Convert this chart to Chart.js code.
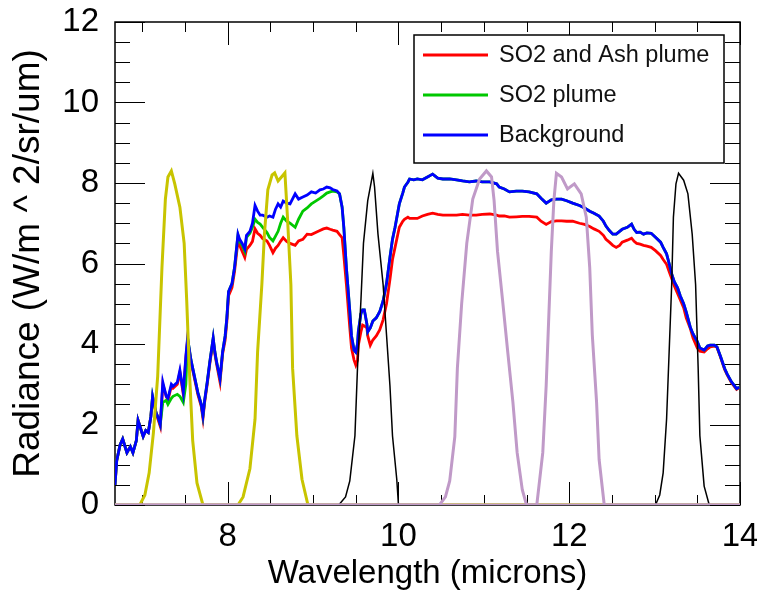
<!DOCTYPE html>
<html>
<head>
<meta charset="utf-8">
<script src="https://cdn.jsdelivr.net/npm/chart.js@4.4.1/dist/chart.umd.min.js"></script>
<style>
  html, body { margin: 0; padding: 0; background: #fff; }
</style>
</head>
<body>
<canvas id="radianceChart" width="757" height="592"></canvas>
<script>
// Wavelength grid for the three spectra (microns)
const waveGrid = [
  6.68, 6.70, 6.74, 6.77, 6.82, 6.86, 6.89, 6.93, 6.95, 6.98,
  7.01, 7.04, 7.07, 7.10, 7.12, 7.16, 7.18, 7.21, 7.24, 7.28,
  7.30, 7.34, 7.36, 7.41, 7.44, 7.48, 7.51, 7.53, 7.57, 7.59,
  7.63, 7.65, 7.69, 7.71, 7.73, 7.76, 7.79, 7.83, 7.85, 7.87,
  7.91, 7.94, 7.97, 7.99, 8.01, 8.05, 8.08, 8.12, 8.14, 8.17,
  8.20, 8.22, 8.26, 8.29, 8.32, 8.35, 8.38, 8.41, 8.46, 8.49,
  8.53, 8.56, 8.59, 8.62, 8.65, 8.69, 8.73, 8.79, 8.83, 8.88,
  8.93, 8.98, 9.03, 9.08, 9.12, 9.16, 9.20, 9.23, 9.28, 9.31,
  9.34, 9.36, 9.39, 9.43, 9.45, 9.48, 9.50, 9.52, 9.53, 9.56,
  9.58, 9.60, 9.63, 9.64, 9.67, 9.70, 9.74, 9.78, 9.82, 9.86,
  9.90, 9.93, 9.96, 9.99, 10.01, 10.05, 10.07, 10.11, 10.13, 10.18,
  10.22, 10.28, 10.34, 10.40, 10.46, 10.52, 10.60, 10.68, 10.75, 10.83,
  10.91, 10.98, 11.07, 11.15, 11.18, 11.24, 11.30, 11.38, 11.45, 11.53,
  11.62, 11.67, 11.73, 11.79, 11.85, 11.91, 11.97, 12.04, 12.12, 12.18,
  12.24, 12.29, 12.35, 12.40, 12.43, 12.47, 12.51, 12.55, 12.59, 12.62,
  12.68, 12.73, 12.76, 12.79, 12.83, 12.87, 12.91, 12.96, 13.01, 13.07,
  13.10, 13.14, 13.17, 13.20, 13.23, 13.27, 13.30, 13.34, 13.37, 13.42,
  13.45, 13.50, 13.53, 13.58, 13.62, 13.65, 13.70, 13.73, 13.77, 13.82,
  13.85, 13.90, 13.96, 13.99
];

// Background radiance
const backgroundRad = [
  0.5, 1.1, 1.5, 1.64, 1.3, 1.45, 1.3, 1.6, 2.1, 1.9,
  1.7, 1.85, 1.8, 2.2, 2.7, 2.3, 2.2, 2.0, 3.05, 2.7,
  2.65, 3.0, 2.95, 3.05, 3.35, 2.8, 3.7, 4.15, 3.6, 3.4,
  3.0, 2.8, 2.5, 2.22, 2.6, 3.05, 3.55, 4.15, 3.8, 3.55,
  3.14, 3.8, 4.2, 4.65, 5.3, 5.5, 5.9, 6.73, 6.6, 6.5,
  6.36, 6.7, 6.8, 7.0, 7.44, 7.3, 7.2, 7.2, 7.15, 7.18,
  7.15, 7.35, 7.48, 7.4, 7.55, 7.5, 7.48, 7.73, 7.6, 7.65,
  7.7, 7.78, 7.75, 7.83, 7.85, 7.9, 7.88, 7.84, 7.8, 7.73,
  7.4, 6.9, 5.9, 4.82, 4.2, 3.85, 3.8, 4.0, 4.31, 4.75,
  4.85, 4.85, 4.5, 4.3, 4.4, 4.57, 4.65, 4.8, 5.07, 5.5,
  6.15, 6.6, 6.9, 7.25, 7.48, 7.75, 7.9, 8.02, 8.1, 8.08,
  8.1, 8.08, 8.15, 8.22, 8.12, 8.1, 8.1, 8.08, 8.05, 8.03,
  8.05, 8.03, 8.03, 7.98, 7.9, 7.85, 7.78, 7.8, 7.8, 7.78,
  7.73, 7.62, 7.5, 7.58, 7.6, 7.6, 7.56, 7.5, 7.44, 7.38,
  7.3, 7.25, 7.18, 7.05, 6.93, 6.82, 6.73, 6.73, 6.8, 6.85,
  6.9, 6.98, 6.85, 6.77, 6.78, 6.73, 6.76, 6.75, 6.65, 6.53,
  6.4, 6.24, 6.0, 5.74, 5.55, 5.39, 5.2, 5.0, 4.8, 4.4,
  4.25, 4.06, 3.9, 3.85, 3.95, 3.97, 3.97, 3.93, 3.7, 3.39,
  3.25, 3.06, 2.89, 2.93
];

// SO2 plume radiance
const so2Rad = [
  0.5, 1.1, 1.5, 1.64, 1.3, 1.45, 1.3, 1.6, 2.1, 1.9,
  1.7, 1.85, 1.8, 2.2, 2.7, 2.3, 2.2, 2.0, 2.55, 2.6,
  2.5, 2.65, 2.7, 2.75, 2.7, 2.55, 3.0, 4.15, 3.6, 3.4,
  3.0, 2.8, 2.5, 2.22, 2.6, 3.05, 3.55, 4.15, 3.8, 3.55,
  3.14, 3.8, 4.2, 4.65, 5.3, 5.5, 5.9, 6.7, 6.55, 6.45,
  6.3, 6.65, 6.75, 6.9, 7.1, 7.02, 6.98, 6.9, 6.77, 6.65,
  6.56, 6.68, 6.8, 7.0, 7.15, 7.05, 7.0, 6.9, 7.1, 7.3,
  7.38, 7.48, 7.55, 7.62, 7.68, 7.75, 7.78, 7.8, 7.78, 7.73,
  7.4, 6.9, 5.9, 4.82, 4.2, 3.85, 3.8, 4.0, 4.31, 4.75,
  4.85, 4.85, 4.5, 4.3, 4.4, 4.57, 4.65, 4.8, 5.07, 5.5,
  6.15, 6.6, 6.9, 7.25, 7.48, 7.75, 7.9, 8.02, 8.1, 8.08,
  8.1, 8.08, 8.15, 8.22, 8.12, 8.1, 8.1, 8.08, 8.05, 8.03,
  8.05, 8.03, 8.03, 7.98, 7.9, 7.85, 7.78, 7.8, 7.8, 7.78,
  7.73, 7.62, 7.5, 7.58, 7.6, 7.6, 7.56, 7.5, 7.44, 7.38,
  7.3, 7.25, 7.18, 7.05, 6.93, 6.82, 6.73, 6.73, 6.8, 6.85,
  6.9, 6.98, 6.85, 6.77, 6.78, 6.73, 6.76, 6.75, 6.65, 6.53,
  6.4, 6.24, 6.0, 5.74, 5.55, 5.39, 5.2, 5.0, 4.8, 4.4,
  4.25, 4.06, 3.9, 3.85, 3.95, 3.97, 3.97, 3.93, 3.7, 3.39,
  3.25, 3.06, 2.89, 2.93
];

// SO2 and Ash plume radiance
const ashRad = [
  0.5, 1.1, 1.5, 1.64, 1.3, 1.45, 1.3, 1.6, 2.1, 1.9,
  1.7, 1.85, 1.8, 2.2, 2.65, 2.3, 2.15, 1.95, 3.0, 2.7,
  2.6, 2.95, 2.9, 3.0, 3.3, 2.75, 3.65, 4.1, 3.55, 3.35,
  2.95, 2.75, 2.45, 2.15, 2.55, 3.0, 3.5, 4.1, 3.75, 3.5,
  3.05, 3.75, 4.1, 4.55, 5.2, 5.4, 5.8, 6.55, 6.45, 6.3,
  6.15, 6.35, 6.45, 6.55, 6.86, 6.75, 6.7, 6.62, 6.56, 6.45,
  6.27, 6.38, 6.45, 6.55, 6.64, 6.55, 6.5, 6.45, 6.56, 6.6,
  6.73, 6.72, 6.77, 6.82, 6.86, 6.88, 6.85, 6.83, 6.8, 6.72,
  6.64, 6.2, 5.48, 4.4, 3.9, 3.6, 3.48, 3.6, 3.97, 4.3,
  4.47, 4.45, 4.4, 4.2, 3.97, 4.1, 4.2, 4.35, 4.6, 5.0,
  5.6, 6.1, 6.4, 6.7, 6.9, 7.05, 7.1, 7.15, 7.12, 7.12,
  7.12, 7.18, 7.22, 7.25, 7.22, 7.2, 7.2, 7.2, 7.22, 7.2,
  7.2, 7.22, 7.23, 7.2, 7.18, 7.18, 7.15, 7.16, 7.17, 7.17,
  7.15, 7.05, 6.97, 7.04, 7.06, 7.06, 7.05, 7.05, 7.0, 6.97,
  6.92, 6.86, 6.8, 6.7, 6.6, 6.53, 6.45, 6.4, 6.45, 6.53,
  6.58, 6.63, 6.55, 6.5, 6.48, 6.45, 6.43, 6.4, 6.32, 6.2,
  6.1, 5.98, 5.8, 5.63, 5.45, 5.25, 5.1, 4.9, 4.65, 4.37,
  4.15, 3.9, 3.82, 3.8, 3.88, 3.93, 3.95, 3.92, 3.68, 3.37,
  3.23, 3.04, 2.87, 2.91
];

// Instrument filter response curves (scaled), each with its own wavelengths
const yellowAWave = [6.68, 6.97, 7.03, 7.08, 7.13, 7.18, 7.23, 7.27, 7.30, 7.34, 7.38, 7.44, 7.49, 7.52, 7.55, 7.59, 7.64, 7.71, 14.0];
const yellowARes  = [0, 0, 0.25, 0.8, 1.8, 3.2, 5.9, 7.6, 8.15, 8.3, 7.98, 7.4, 6.5, 5.07, 3.4, 1.6, 0.55, 0, 0];
const yellowBWave = [6.68, 8.12, 8.18, 8.26, 8.32, 8.35, 8.40, 8.43, 8.47, 8.52, 8.55, 8.59, 8.63, 8.67, 8.70, 8.74, 8.76, 8.81, 8.87, 8.94, 14.0];
const yellowBRes  = [0, 0, 0.2, 0.9, 2.13, 3.8, 5.48, 6.73, 7.83, 8.2, 8.25, 8.05, 8.15, 8.25, 7.15, 5.48, 3.4, 1.72, 0.64, 0, 0];
const blackAWave  = [6.68, 9.30, 9.38, 9.43, 9.49, 9.52, 9.56, 9.59, 9.64, 9.70, 9.72, 9.76, 9.82, 9.86, 9.90, 9.93, 9.98, 10.0, 14.0];
const blackARes   = [0, 0, 0.2, 0.6, 1.72, 3.4, 5.07, 6.5, 7.56, 8.24, 7.9, 6.73, 5.48, 4.23, 2.97, 1.72, 0.64, 0, 0];
const purpleAWave = [6.68, 10.48, 10.55, 10.60, 10.66, 10.69, 10.74, 10.80, 10.87, 10.95, 11.03, 11.09, 11.12, 11.16, 11.22, 11.28, 11.34, 11.39, 11.45, 11.50, 14.0];
const purpleARes  = [0, 0, 0.2, 0.6, 1.7, 3.4, 5.0, 6.5, 7.6, 8.1, 8.3, 8.15, 7.56, 6.3, 5.07, 3.8, 2.56, 1.3, 0.38, 0, 0];
const purpleBWave = [6.68, 11.62, 11.69, 11.73, 11.76, 11.79, 11.82, 11.85, 11.91, 11.98, 12.06, 12.14, 12.20, 12.24, 12.27, 12.32, 12.35, 12.41, 14.0];
const purpleBRes  = [0, 0, 1.3, 2.97, 4.65, 6.3, 7.56, 8.24, 8.15, 7.85, 7.98, 7.73, 7.15, 5.9, 4.23, 2.56, 1.13, 0, 0];
const blackBWave  = [6.68, 13.01, 13.06, 13.10, 13.14, 13.17, 13.20, 13.22, 13.25, 13.28, 13.34, 13.39, 13.44, 13.48, 13.51, 13.53, 13.58, 13.64, 14.0];
const blackBRes   = [0, 0, 0.25, 0.8, 2.13, 3.8, 5.48, 7.15, 7.98, 8.24, 8.07, 7.73, 6.73, 5.48, 3.4, 1.72, 0.47, 0, 0];

const legendNames = ['SO2 and Ash plume', 'SO2 plume', 'Background'];
const xTickValues = [8, 10, 12, 14];
const yTickValues = [0, 2, 4, 6, 8, 10, 12];
const minorStep = 0.5;

const FONT = "'Liberation Sans', Arial, Helvetica, sans-serif";

function pairs(xs, ys) {
    return xs.map((x, i) => ({ x: x, y: ys[i] }));
}

/**
 * Ramka va ichki tomonga qaragan tiklar
 */
const frameTicks = {
    id: 'frameTicks',
    beforeDatasetsDraw(chart) {
        const { ctx, chartArea: a, scales: { x, y } } = chart;
        ctx.save();
        ctx.strokeStyle = '#000';
        ctx.lineWidth = 1;
        ctx.beginPath();
        for (let i = Math.ceil(x.min / minorStep); i * minorStep <= x.max + 1e-9; i++) {
            const px = Math.round(x.getPixelForValue(i * minorStep)) + 0.5;
            const len = (i % 4 === 0) ? 23 : 10;
            ctx.moveTo(px, a.bottom); ctx.lineTo(px, a.bottom - len);
            ctx.moveTo(px, a.top); ctx.lineTo(px, a.top + len);
        }
        for (let i = Math.ceil(y.min / minorStep); i * minorStep <= y.max + 1e-9; i++) {
            const py = Math.round(y.getPixelForValue(i * minorStep)) + 0.5;
            const len = (i % 4 === 0) ? 30 : 15;
            ctx.moveTo(a.left, py); ctx.lineTo(a.left + len, py);
            ctx.moveTo(a.right, py); ctx.lineTo(a.right - len, py);
        }
        ctx.stroke();
        ctx.lineWidth = 1.5;
        ctx.strokeRect(a.left, a.top, a.right - a.left, a.bottom - a.top);
        ctx.restore();
    }
};

/**
 * Grafik ichidagi legenda
 */
const boxLegend = {
    id: 'boxLegend',
    afterDraw(chart) {
        const ctx = chart.ctx;
        const box = { left: 414, top: 35, right: 724, bottom: 163 };
        ctx.save();
        ctx.fillStyle = '#fff';
        ctx.fillRect(box.left, box.top, box.right - box.left, box.bottom - box.top);
        ctx.strokeStyle = '#000';
        ctx.lineWidth = 1.5;
        ctx.strokeRect(box.left, box.top, box.right - box.left, box.bottom - box.top);
        ctx.font = '23.5px ' + FONT;
        ctx.textBaseline = 'middle';
        ctx.textAlign = 'left';
        legendNames.forEach((name, i) => {
            const ds = chart.data.datasets.find(d => d.label === name);
            const rowY = 55 + i * 40;
            ctx.strokeStyle = ds.borderColor;
            ctx.lineWidth = 3;
            ctx.beginPath();
            ctx.moveTo(423, rowY);
            ctx.lineTo(488, rowY);
            ctx.stroke();
            ctx.fillStyle = '#111';
            ctx.fillText(name, 499, rowY + 1);
        });
        ctx.restore();
    }
};

const ctx = document.getElementById('radianceChart');

new Chart(ctx, {
    type: 'line',
    data: {
        datasets: [
            { label: 'Filter 11.0', data: pairs(purpleAWave, purpleARes), borderColor: '#c09ac8', borderWidth: 3 },
            { label: 'Filter 12.0', data: pairs(purpleBWave, purpleBRes), borderColor: '#c09ac8', borderWidth: 3 },
            { label: 'Filter 9.7', data: pairs(blackAWave, blackARes), borderColor: '#000000', borderWidth: 1.5 },
            { label: 'Filter 13.3', data: pairs(blackBWave, blackBRes), borderColor: '#000000', borderWidth: 1.5 },
            { label: 'Filter 7.3', data: pairs(yellowAWave, yellowARes), borderColor: '#c8c400', borderWidth: 3 },
            { label: 'Filter 8.6', data: pairs(yellowBWave, yellowBRes), borderColor: '#c8c400', borderWidth: 3 },
            { label: 'Background', data: pairs(waveGrid, backgroundRad), borderColor: '#0000ff', borderWidth: 2.8 },
            { label: 'SO2 plume', data: pairs(waveGrid, so2Rad), borderColor: '#00c800', borderWidth: 2.8 },
            { label: 'SO2 and Ash plume', data: pairs(waveGrid, ashRad), borderColor: '#ff0000', borderWidth: 2.8 }
        ]
    },
    options: {
        responsive: false,
        animation: false,
        layout: { padding: { top: 22, right: 17, left: 0, bottom: 0 } },
        elements: {
            point: { radius: 0 },
            line: { tension: 0, fill: false }
        },
        plugins: {
            legend: { display: false },
            tooltip: { enabled: false }
        },
        scales: {
            x: {
                type: 'linear',
                min: 6.68,
                max: 14,
                grid: { display: false, drawTicks: false },
                border: { display: false },
                afterBuildTicks: s => { s.ticks = xTickValues.map(v => ({ value: v })); },
                afterFit: s => { s.height = 87; s.paddingLeft = 0; s.paddingRight = 0; },
                ticks: {
                    font: { size: 33, family: FONT },
                    color: '#000',
                    padding: 12,
                    maxRotation: 0,
                    autoSkip: false
                },
                title: {
                    display: true,
                    text: 'Wavelength (microns)',
                    font: { size: 33, family: FONT },
                    color: '#000',
                    padding: { top: 0, bottom: -2 }
                }
            },
            y: {
                min: 0,
                max: 12,
                grid: { display: false, drawTicks: false },
                border: { display: false },
                afterBuildTicks: s => { s.ticks = yTickValues.map(v => ({ value: v })); },
                afterFit: s => { s.width = 115; s.paddingTop = 0; s.paddingBottom = 0; },
                ticks: {
                    font: { size: 33, family: FONT },
                    color: '#000',
                    padding: 16
                },
                title: {
                    display: true,
                    text: 'Radiance (W/m ^ 2/sr/um)',
                    font: { size: 37, family: FONT },
                    color: '#000',
                    padding: { top: 7, bottom: 0 }
                }
            }
        }
    },
    plugins: [frameTicks, boxLegend]
});
</script>
</body>
</html>
